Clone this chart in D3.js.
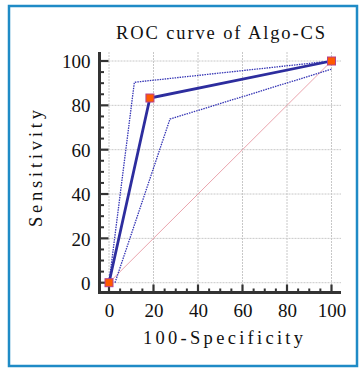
<!DOCTYPE html>
<html><head><meta charset="utf-8">
<script src="https://cdn.jsdelivr.net/npm/d3@7"></script>
<style>
html,body{margin:0;padding:0;background:#fff;}
svg{display:block;}
</style></head>
<body>
<script>
const title = "ROC curve of Algo-CS";
const xLabel = "100-Specificity";
const yLabel = "Sensitivity";
const tickValues = [0, 20, 40, 60, 80, 100];
const rocX = [0, 18.4, 100];
const rocY = [0, 83.3, 100];
const upperX = [0, 11.4, 100];
const upperY = [0, 90.4, 100];
const lowerX = [2.7, 27.4, 100];
const lowerY = [0, 73.8, 96.3];
const diagX = [0, 100];
const diagY = [0, 100];

const W = 359, H = 368;
const svg = d3.select("body").append("svg").attr("width", W).attr("height", H);

svg.append("rect").attr("x", 9).attr("y", 6).attr("width", 348).attr("height", 360)
  .attr("fill", "none").attr("stroke", "#1f8bc6").attr("stroke-width", 2.5);

const x = d3.scaleLinear().domain([0, 100]).range([109, 331.5]);
const y = d3.scaleLinear().domain([0, 100]).range([282.7, 61]);
const xAxisY = 292.5, yAxisX = 99.5;
const xEnd = 341, yTop = 52;

const serif = "'Liberation Serif','DejaVu Serif',serif";

// grid
const g = svg.append("g");
tickValues.forEach(v => {
  g.append("line").attr("x1", x(v)).attr("x2", x(v)).attr("y1", yTop).attr("y2", xAxisY)
    .attr("stroke", "#c8c8c8").attr("stroke-width", 1).attr("stroke-dasharray", "2,1");
  g.append("line").attr("y1", y(v)).attr("y2", y(v)).attr("x1", yAxisX).attr("x2", xEnd)
    .attr("stroke", "#c8c8c8").attr("stroke-width", 1).attr("stroke-dasharray", "2,1");
});

// axes
const minor = d3.range(0, 101, 5).filter(v => v % 20 !== 0);
const xAx = svg.append("g").attr("transform", `translate(0,${xAxisY})`)
  .call(d3.axisBottom(x).tickValues(tickValues).tickSize(0).tickPadding(11).tickFormat(d3.format("d")));
xAx.select(".domain").remove();
xAx.selectAll("text").attr("font-family", serif).attr("font-size", 19).attr("fill", "#111");
const yAx = svg.append("g").attr("transform", `translate(${yAxisX},0)`)
  .call(d3.axisLeft(y).tickValues(tickValues).tickSize(0).tickPadding(9).tickFormat(d3.format("d")));
yAx.select(".domain").remove();
yAx.selectAll("text").attr("font-family", serif).attr("font-size", 19).attr("fill", "#111").attr("dy", "0.35em");

const axCol = "#333";
tickValues.forEach(v => {
  svg.append("line").attr("x1", x(v)).attr("x2", x(v)).attr("y1", xAxisY).attr("y2", xAxisY - 8)
    .attr("stroke", axCol).attr("stroke-width", 2.2);
  svg.append("line").attr("y1", y(v)).attr("y2", y(v)).attr("x1", yAxisX).attr("x2", yAxisX + 9)
    .attr("stroke", axCol).attr("stroke-width", 2.2);
});
minor.forEach(v => {
  svg.append("line").attr("x1", x(v)).attr("x2", x(v)).attr("y1", xAxisY).attr("y2", xAxisY - 4)
    .attr("stroke", axCol).attr("stroke-width", 2);
  svg.append("line").attr("y1", y(v)).attr("y2", y(v)).attr("x1", yAxisX).attr("x2", yAxisX + 4.5)
    .attr("stroke", axCol).attr("stroke-width", 2);
});
svg.append("line").attr("x1", yAxisX - 1.5).attr("x2", xEnd).attr("y1", xAxisY).attr("y2", xAxisY)
  .attr("stroke", axCol).attr("stroke-width", 3);
svg.append("line").attr("x1", yAxisX).attr("x2", yAxisX).attr("y1", yTop).attr("y2", xAxisY + 1.5)
  .attr("stroke", axCol).attr("stroke-width", 3);

// lines
const line = d3.line().x(d => x(d[0])).y(d => y(d[1]));
const pts = (xs, ys) => xs.map((v, i) => [v, ys[i]]);
svg.append("path").attr("d", line(pts(diagX, diagY))).attr("fill", "none")
  .attr("stroke", "#e89aa4").attr("stroke-width", 0.9);
[[upperX, upperY], [lowerX, lowerY]].forEach(([xs, ys]) => {
  svg.append("path").attr("d", line(pts(xs, ys))).attr("fill", "none")
    .attr("stroke", "#3535b5").attr("stroke-width", 1.3).attr("stroke-dasharray", "1.5,1");
});
svg.append("path").attr("d", line(pts(rocX, rocY))).attr("fill", "none")
  .attr("stroke", "#2d2d9e").attr("stroke-width", 2.8);
const ms = 8;
svg.selectAll("rect.m").data(pts(rocX, rocY)).enter().append("rect").attr("class", "m")
  .attr("x", d => x(d[0]) - ms / 2).attr("y", d => y(d[1]) - ms / 2)
  .attr("width", ms).attr("height", ms)
  .attr("fill", "#ff5a00").attr("stroke", "#b5408a").attr("stroke-width", 1);

// titles (fit widths to reference)
function fitText(sel, target) {
  sel.attr("textLength", target).attr("lengthAdjust", "spacing");
}
fitText(svg.append("text").attr("x", 116).attr("y", 39)
  .attr("font-family", serif).attr("font-size", 18.5)
  .attr("fill", "#111").text(title), 209);
fitText(svg.append("text").attr("x", 143).attr("y", 344)
  .attr("font-family", serif).attr("font-size", 18.5)
  .attr("fill", "#111").text(xLabel), 160);
fitText(svg.append("text").attr("transform", "translate(42,227) rotate(-90)")
  .attr("font-family", serif).attr("font-size", 18.5)
  .attr("fill", "#111").text(yLabel), 117);
</script>
</body></html>
